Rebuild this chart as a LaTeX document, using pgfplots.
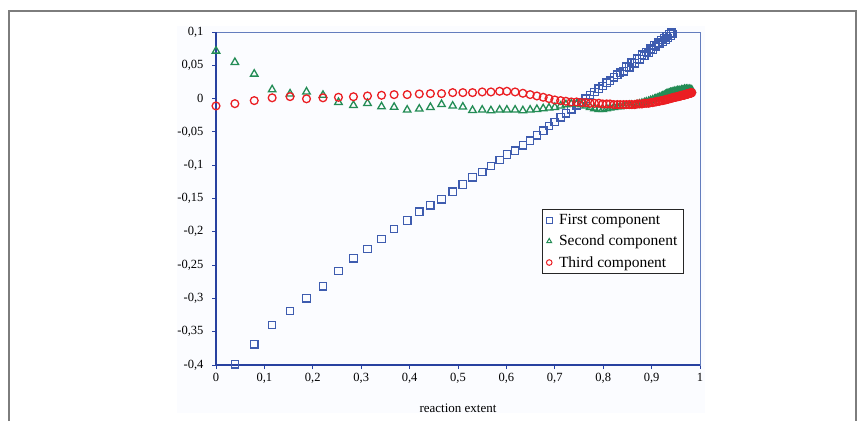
\documentclass[border=0pt]{standalone}
\usepackage{fontspec}
\setmainfont{Liberation Serif}
\usepackage{pgfplots}
\pgfplotsset{compat=1.18}
\definecolor{sqblue}{RGB}{62,92,175}
\definecolor{trgreen}{RGB}{35,140,85}
\definecolor{cired}{RGB}{235,30,35}
\definecolor{axisblue}{RGB}{40,65,160}
\definecolor{axislight}{RGB}{100,125,190}
\definecolor{framegray}{RGB}{125,125,125}
\definecolor{chartbg}{RGB}{251,252,255}
\begin{document}
\begin{tikzpicture}[x=1pt,y=1pt]
\useasboundingbox (0,0) rectangle (863,421);
\fill[chartbg] (177,8) rectangle (705,395);
\draw[framegray, line width=1.5pt] (9,0) -- (9,410) -- (856,410) -- (856,0);
\begin{axis}[
  at={(216pt,56pt)}, anchor=south west,
  scale only axis, width=484pt, height=333pt,
  xmin=0, xmax=1, ymin=-0.4, ymax=0.1,
  xtick={0,0.1,0.2,0.3,0.4,0.5,0.6,0.7,0.8,0.9,1},
  xticklabels={0,{0,1},{0,2},{0,3},{0,4},{0,5},{0,6},{0,7},{0,8},{0,9},1},
  ytick={-0.4,-0.35,-0.3,-0.25,-0.2,-0.15,-0.1,-0.05,0,0.05,0.1},
  yticklabels={{-0,4},{-0,35},{-0,3},{-0,25},{-0,2},{-0,15},{-0,1},{-0,05},0,{0,05},{0,1}},
  tick align=outside, tick pos=left, major tick length=4pt,
  tick style={axisblue, line width=1pt},
  axis line style={axislight, line width=0.8pt},
  ticklabel style={font=\fontsize{12.5}{14}\selectfont, text=black},
  yticklabel style={xshift=-5pt},
  xticklabel style={yshift=-1pt},
  xlabel={reaction extent},
  xlabel style={font=\fontsize{13}{15}\selectfont, yshift=-13pt},
  clip=false,
  legend cell align=left,
  legend image code/.code={\draw[#1, mark size=2.8pt, line width=1pt] plot coordinates {(0pt,0pt)};},
  legend style={at={(0.6736,0.4685)}, anchor=north west,
    font=\fontsize{15.5}{18}\selectfont, draw=black!85, line width=0.8pt,
    fill=white, inner xsep=4pt, inner ysep=3pt, row sep=5pt,
    /tikz/every odd column/.append style={column sep=5pt}},
]
\addplot[only marks, mark=square, mark size=3.7pt, draw=sqblue, line width=1.3pt] coordinates {
(0.039,-0.399) (0.079,-0.369) (0.116,-0.340) (0.153,-0.319) (0.187,-0.300)
(0.221,-0.282) (0.253,-0.259) (0.284,-0.240) (0.313,-0.226) (0.342,-0.211)
(0.368,-0.196) (0.395,-0.183) (0.420,-0.170) (0.443,-0.160) (0.466,-0.151)
(0.489,-0.140) (0.510,-0.129) (0.530,-0.118) (0.550,-0.110) (0.568,-0.101)
(0.586,-0.092) (0.601,-0.084) (0.618,-0.078) (0.634,-0.070) (0.649,-0.063)
(0.663,-0.055) (0.676,-0.048) (0.688,-0.041) (0.700,-0.035) (0.712,-0.028)
(0.723,-0.022) (0.734,-0.016) (0.745,-0.010) (0.755,-0.005) (0.764,0.000)
(0.773,0.005) (0.782,0.010) (0.791,0.015) (0.799,0.019) (0.807,0.024)
(0.814,0.027) (0.822,0.032) (0.829,0.036) (0.835,0.039) (0.842,0.041)
(0.848,0.048) (0.854,0.047) (0.859,0.054) (0.865,0.053) (0.870,0.060)
(0.875,0.059) (0.880,0.066) (0.885,0.064) (0.889,0.070) (0.894,0.069)
(0.898,0.075) (0.902,0.073) (0.906,0.080) (0.909,0.078) (0.913,0.084)
(0.916,0.082) (0.920,0.088) (0.923,0.085) (0.926,0.091) (0.929,0.088)
(0.931,0.094) (0.934,0.091) (0.937,0.097) (0.939,0.094) (0.941,0.099)
(0.944,0.097)
};
\addlegendentry{First component}
\addplot[only marks, mark=triangle, mark size=4.3pt, draw=trgreen, line width=1.3pt] coordinates {
(0,0.0715) (0.039,0.0545) (0.079,0.037) (0.116,0.0135) (0.153,0.0072)
(0.187,0.0102) (0.221,0.0052) (0.253,-0.0055) (0.284,-0.010) (0.313,-0.007)
(0.342,-0.012) (0.368,-0.0128) (0.395,-0.017) (0.420,-0.0155) (0.443,-0.013)
(0.466,-0.0086) (0.489,-0.011) (0.510,-0.0125) (0.530,-0.0175) (0.550,-0.017)
(0.568,-0.018) (0.586,-0.017) (0.601,-0.017) (0.618,-0.017) (0.634,-0.018)
(0.649,-0.017) (0.663,-0.016) (0.676,-0.015) (0.688,-0.014) (0.700,-0.013)
(0.712,-0.011) (0.723,-0.009) (0.734,-0.008) (0.745,-0.008) (0.755,-0.009)
(0.764,-0.011) (0.773,-0.013) (0.782,-0.015) (0.791,-0.016) (0.799,-0.016)
(0.807,-0.015) (0.814,-0.014) (0.822,-0.013) (0.829,-0.012) (0.835,-0.012)
(0.842,-0.011) (0.848,-0.011) (0.854,-0.010) (0.859,-0.010) (0.865,-0.010)
(0.870,-0.009) (0.875,-0.008) (0.880,-0.007) (0.885,-0.006) (0.889,-0.005)
(0.894,-0.004) (0.898,-0.003) (0.902,-0.002) (0.906,-0.001) (0.909,0.000)
(0.913,0.001) (0.916,0.002) (0.920,0.003) (0.923,0.004) (0.926,0.005)
(0.929,0.006) (0.931,0.007) (0.934,0.008) (0.937,0.008) (0.939,0.009)
(0.941,0.009) (0.944,0.010) (0.946,0.010) (0.948,0.011) (0.950,0.010)
(0.952,0.011) (0.954,0.012) (0.956,0.011) (0.957,0.012) (0.959,0.011)
(0.961,0.012) (0.962,0.013) (0.964,0.012) (0.965,0.013) (0.967,0.012)
(0.968,0.014) (0.969,0.012) (0.970,0.013) (0.971,0.012) (0.972,0.014)
(0.973,0.013) (0.974,0.012) (0.975,0.014) (0.976,0.013) (0.977,0.012)
(0.978,0.013) (0.979,0.014) (0.980,0.012) (0.981,0.013) (0.982,0.012)
(0.983,0.013)
};
\addlegendentry{Second component}
\addplot[only marks, mark=o, mark size=3.9pt, draw=cired, line width=1.3pt] coordinates {
(0,-0.011) (0.039,-0.0076) (0.079,-0.003) (0.116,0.0012) (0.153,0.003)
(0.187,-0.0003) (0.221,0.0012) (0.253,0.002) (0.284,0.0028) (0.313,0.004)
(0.342,0.005) (0.368,0.006) (0.395,0.006) (0.420,0.007) (0.443,0.0075)
(0.466,0.0075) (0.489,0.009) (0.510,0.009) (0.530,0.009) (0.550,0.010)
(0.568,0.010) (0.586,0.011) (0.601,0.011) (0.618,0.010) (0.634,0.008)
(0.649,0.006) (0.663,0.004) (0.676,0.002) (0.688,0.000) (0.700,-0.002)
(0.712,-0.003) (0.723,-0.004) (0.734,-0.005) (0.745,-0.005) (0.755,-0.006)
(0.764,-0.006) (0.773,-0.007) (0.782,-0.007) (0.791,-0.007) (0.799,-0.008)
(0.807,-0.008) (0.814,-0.008) (0.822,-0.009) (0.829,-0.009) (0.835,-0.009)
(0.842,-0.009) (0.848,-0.009) (0.854,-0.009) (0.859,-0.009) (0.865,-0.009)
(0.870,-0.008) (0.875,-0.008) (0.880,-0.008) (0.885,-0.007) (0.889,-0.007)
(0.894,-0.007) (0.898,-0.006) (0.902,-0.006) (0.906,-0.005) (0.909,-0.005)
(0.913,-0.004) (0.916,-0.004) (0.920,-0.003) (0.923,-0.003) (0.926,-0.002)
(0.929,-0.002) (0.931,-0.001) (0.934,-0.001) (0.937,0.000) (0.939,0.000)
(0.941,0.001) (0.944,0.001) (0.946,0.002) (0.948,0.002) (0.950,0.002)
(0.952,0.003) (0.954,0.003) (0.956,0.003) (0.957,0.004) (0.959,0.004)
(0.961,0.004) (0.962,0.005) (0.964,0.005) (0.965,0.005) (0.967,0.005)
(0.968,0.006) (0.969,0.006) (0.970,0.006) (0.971,0.006) (0.972,0.007)
(0.973,0.007) (0.974,0.007) (0.975,0.007) (0.976,0.007) (0.977,0.008)
(0.978,0.008) (0.979,0.008) (0.980,0.008) (0.981,0.008) (0.982,0.009)
(0.983,0.009)
};
\addlegendentry{Third component}
\draw[axisblue, line width=1.5pt] (rel axis cs:0,1) -- (rel axis cs:0,0) -- (rel axis cs:1,0);
\end{axis}
\end{tikzpicture}
\end{document}
